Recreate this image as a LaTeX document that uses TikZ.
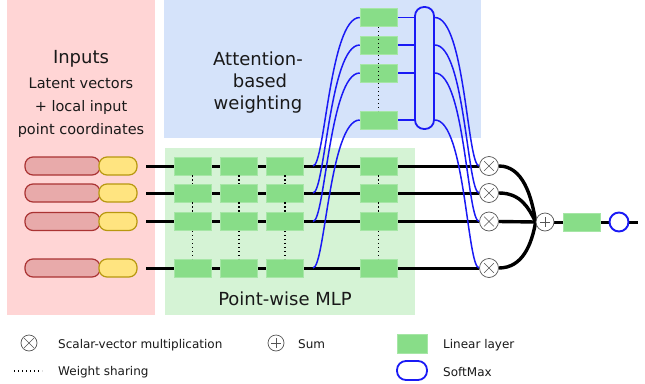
\documentclass[tikz,border=0pt]{standalone}
\usepackage{fontspec}
\setmainfont{DejaVu Sans}
\definecolor{pinkbg}{HTML}{FFD5D5}
\definecolor{bluebg}{HTML}{D5E3FA}
\definecolor{greenbg}{HTML}{D5F3D5}
\definecolor{linfill}{HTML}{88DD88}
\definecolor{redfill}{HTML}{E8AAAA}
\definecolor{redline}{HTML}{AA3333}
\definecolor{yelfill}{HTML}{FFE480}
\definecolor{yelline}{HTML}{B8980F}
\definecolor{attblue}{HTML}{1A1AF5}
\definecolor{opgray}{HTML}{555555}
\pgfdeclarelayer{panels}
\pgfdeclarelayer{lines}
\pgfsetlayers{panels,lines,main}
\tikzset{
  lin/.style={rectangle, fill=linfill, draw=linfill!75!white, line width=0.5pt,
    minimum width=37pt, minimum height=18pt, inner sep=0pt},
  latent/.style={rectangle, rounded corners=8pt, fill=redfill, draw=redline,
    line width=1.2pt, minimum width=75pt, minimum height=18pt, inner sep=0pt},
  pcoord/.style={rectangle, rounded corners=8pt, fill=yelfill, draw=yelline,
    line width=1.2pt, minimum width=38pt, minimum height=18pt, inner sep=0pt},
  mult/.style={circle, draw=opgray, fill=white, line width=0.7pt, minimum size=19pt,
    inner sep=0pt, path picture={\draw[opgray, line width=0.6pt]
      ([shift={(-4.8,-4.8)}]path picture bounding box.center) -- ([shift={(4.8,4.8)}]path picture bounding box.center)
      ([shift={(-4.8,4.8)}]path picture bounding box.center) -- ([shift={(4.8,-4.8)}]path picture bounding box.center);}},
  sumc/.style={circle, draw=opgray, fill=white, line width=0.7pt, minimum size=18pt,
    inner sep=0pt, path picture={\draw[opgray, line width=0.6pt]
      ([shift={(-5,0)}]path picture bounding box.center) -- ([shift={(5,0)}]path picture bounding box.center)
      ([shift={(0,-5)}]path picture bounding box.center) -- ([shift={(0,5)}]path picture bounding box.center);}},
  smax/.style={rectangle, rounded corners=9pt, draw=attblue, fill=bluebg, line width=1.8pt,
    minimum width=19pt, inner sep=0pt},
  outc/.style={circle, draw=attblue, fill=white, line width=1.9pt, minimum size=19pt, inner sep=0pt},
  rowline/.style={line width=3pt, black},
  conv/.style={line width=3.4pt, black},
  bl/.style={attblue, line width=1.5pt},
  dots/.style={black, line width=1.6pt, dash pattern=on 1.4pt off 2.6pt},
  bigtxt/.style={font=\fontsize{18}{22}\selectfont, text=black!90, anchor=base, inner sep=0pt},
  midtxt/.style={font=\fontsize{14.5}{18}\selectfont, text=black!90, anchor=base, inner sep=0pt},
  legtxt/.style={font=\fontsize{12}{15}\selectfont, text=black!90, anchor=base west, inner sep=0pt}
}
\begin{document}
\begin{tikzpicture}[x=1pt,y=-1pt]
\useasboundingbox (0,0) rectangle (645,383);
\begin{pgfonlayer}{panels}
  \fill[white] (0,0) rectangle (645,383);
  \fill[pinkbg] (7,0) rectangle (155,315);
  \fill[bluebg] (164,0) rectangle (481,138);
  \fill[greenbg] (165,148) rectangle (415,315);
\end{pgfonlayer}

% panel texts
\node[bigtxt] (tin) at (81,63) {Inputs};
\node[midtxt] (tl1) at (81,88) {Latent vectors};
\node[midtxt] (tl2) at (81,111) {+ local input};
\node[midtxt] (tl3) at (81,134) {point coordinates};
\node[bigtxt] (ta1) at (258,65) {Attention-};
\node[bigtxt] (ta2) at (260,87) {based};
\node[bigtxt] (ta3) at (258,109) {weighting};
\node[bigtxt] (tmlp) at (285,305) {Point-wise MLP};

% rows
\foreach \r/\y in {1/166,2/193,3/221.5,4/268}{
  \node[latent] (lat\r) at (62.5,\y) {};
  \node[pcoord] (pc\r) at (118,\y) {};
  \coordinate (s\r) at (146,\y);
  \coordinate (j\r) at (313,\y);
  \foreach \c/\x in {1/192.5,2/239,3/285,4/378.5}{
    \node[lin] (b\r\c) at (\x,\y) {};
  }
  \node[mult] (m\r) at (489,\y) {};
}
% attention
\foreach \r/\y in {1/17.5,2/45,3/73,4/120}{
  \node[lin] (a\r) at (378.5,\y) {};
}
\node[smax, minimum height=122pt] (sm) at (424.5,68) {};
% output
\node[sumc] (sum) at (545,222) {};
\node[lin] (fin) at (582,222) {};
\node[outc] (out) at (619,222) {};
\coordinate (end) at (638,222);

\begin{pgfonlayer}{lines}
  \foreach \r in {1,2,3,4}{
    \draw[rowline] (s\r) -- (m\r.west);
  }
  \draw[conv] (m1.east) .. controls +(24,0) and +(-4,-26) .. (sum.west);
  \draw[conv] (m2.east) .. controls +(22,0) and +(-7,-14) .. (sum.west);
  \draw[conv] (m3.east) -- (sum.west);
  \draw[conv] (m4.east) .. controls +(24,0) and +(-4,22) .. (sum.west);
  \draw[rowline] (sum.east) -- (fin.west);
  \draw[rowline] (fin.east) -- (out.west);
  \draw[rowline] (out.east) -- (end);
  \foreach \r in {1,2,3,4}{
    \draw[bl] (j\r) .. controls +(12,0) and +(-30,0) .. (a\r.west);
    \draw[bl] (a\r.east) -- (sm.west |- a\r);
    \draw[bl] (sm.east |- a\r) .. controls +(30,0) and +(-12,0) .. (m\r.west);
  }
\end{pgfonlayer}

% weight sharing dots
\foreach \c in {1,2,3,4}{
  \draw[dots] (b1\c.south) -- (b2\c.north);
  \draw[dots] (b2\c.south) -- (b3\c.north);
  \draw[dots] (b3\c.south) -- (b4\c.north);
}
\draw[dots] (a1.south) -- (a4.north);

% legend
\node[mult, minimum size=16pt] (lgm) at (29,343) {};
\node[legtxt] (lgmt) at (58,348) {Scalar-vector multiplication};
\coordinate (lgd1) at (14,371);
\coordinate (lgd2) at (42,371);
\draw[dots, line width=1.2pt] (lgd1) -- (lgd2);
\node[legtxt] (lgdt) at (58,375) {Weight sharing};
\node[sumc, minimum size=16pt] (lgs) at (276,343) {};
\node[legtxt] (lgst) at (298,348) {Sum};
\node[lin, minimum width=30pt, minimum height=19pt] (lgl) at (412,343.5) {};
\node[legtxt] (lglt) at (443,348) {Linear layer};
\node[smax, fill=white, minimum width=30pt, minimum height=19pt] (lgsm) at (412,370.5) {};
\node[legtxt] (lgsmt) at (443,376) {SoftMax};
\end{tikzpicture}
\end{document}
